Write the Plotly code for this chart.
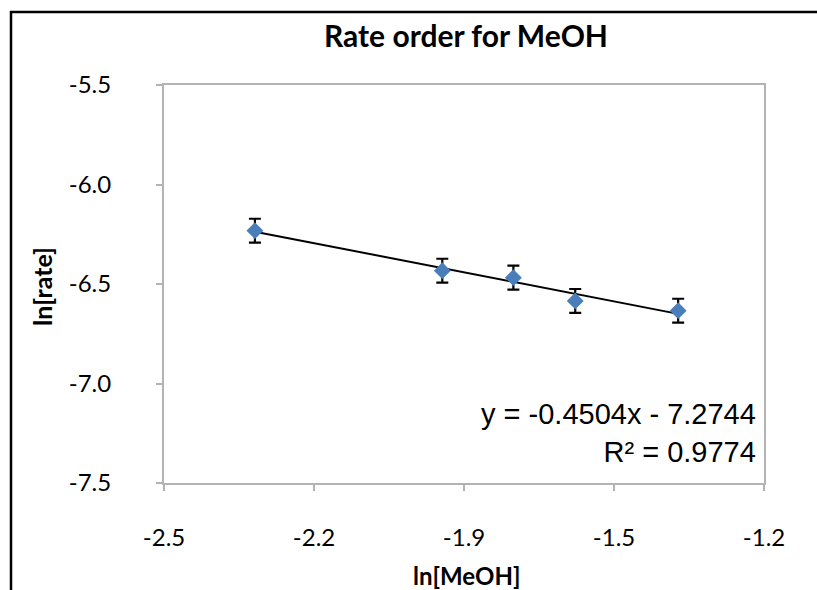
from decimal import Decimal, ROUND_HALF_UP

import numpy as np
import plotly.graph_objects as go

# Measured points: ln of methanol concentration vs ln of the initial rate
ln_meoh = [-2.303, -1.897, -1.743, -1.609, -1.386]
ln_rate = [-6.232, -6.433, -6.468, -6.585, -6.634]
rate_err = [0.06, 0.06, 0.06, 0.06, 0.06]

# Least-squares line as reported on the chart
slope = -0.4504
intercept = -7.2744
r_squared = 0.9774

x_range = [-2.5, -1.2]
x_dtick = 0.325
y_range = [-7.5, -5.5]
y_dtick = 0.5

W, H = 817, 590
L, R, T, B = 164, 53, 85, 107


def px(x):
    return (x - L) / (W - L - R)


def py(y):
    return (H - B - y) / (H - T - B)


def fmt1(v):
    # one decimal, halves rounded away from zero, plain hyphen-minus
    d = Decimal(repr(round(float(v), 6))).quantize(Decimal("0.1"), rounding=ROUND_HALF_UP)
    return str(d)


def ticks(rng, step):
    n = int(round((rng[1] - rng[0]) / step))
    vals = [rng[0] + i * step for i in range(n + 1)]
    return vals, [fmt1(v) for v in vals]


x_tickvals, x_ticktext = ticks(x_range, x_dtick)
y_tickvals, y_ticktext = ticks(y_range, y_dtick)

fit_x = [min(ln_meoh), max(ln_meoh)]
fit_y = [slope * v + intercept for v in fit_x]

fig = go.Figure()
fig.add_trace(go.Scatter(
    x=fit_x, y=fit_y, mode="lines",
    line=dict(color="black", width=2),
    showlegend=False, hoverinfo="skip",
))
fig.add_trace(go.Scatter(
    x=ln_meoh, y=ln_rate, mode="markers",
    marker=dict(symbol="diamond", size=13, color="#4a7ebb"),
    error_y=dict(type="data", array=rate_err, visible=True,
                 color="black", thickness=2.2, width=6),
    showlegend=False,
))

axis_style = dict(
    showgrid=False, zeroline=False, showline=True, mirror=True,
    linecolor="#b3b3b3", linewidth=2,
    ticks="outside", ticklen=6, tickwidth=2, tickcolor="#b3b3b3",
    tickfont=dict(family="Lato", size=24, color="black"),
)

sign = "-" if intercept < 0 else "+"
eq_text = f"y = {slope:.4f}x {sign} {abs(intercept):.4f}<br>R² = {r_squared:.4f}"

fig.update_layout(
    width=W, height=H,
    margin=dict(l=L, r=R, t=T, b=B),
    paper_bgcolor="white", plot_bgcolor="white",
    xaxis=dict(range=x_range, tickmode="array", tickvals=x_tickvals,
               ticktext=x_ticktext, ticklabelstandoff=26, **axis_style),
    yaxis=dict(range=y_range, tickmode="array", tickvals=y_tickvals,
               ticktext=y_ticktext, ticklabelstandoff=40, **axis_style),
    shapes=[dict(type="rect", xref="paper", yref="paper",
                 x0=px(11), x1=px(840), y0=py(620), y1=py(12),
                 line=dict(color="black", width=2.5), layer="above")],
    annotations=[
        dict(text="<b>Rate order for MeOH</b>", xref="paper", yref="paper",
             x=px(466), y=py(35), xanchor="center", yanchor="middle",
             showarrow=False, font=dict(family="Lato", size=30, color="black")),
        dict(text="<b>ln[MeOH]</b>", xref="paper", yref="paper",
             x=px(467), y=py(575), xanchor="center", yanchor="middle",
             showarrow=False, font=dict(family="Lato", size=24, color="black")),
        dict(text="<b>ln[rate]</b>", xref="paper", yref="paper",
             x=px(42), y=py(287), xanchor="center", yanchor="middle",
             textangle=-90, showarrow=False,
             font=dict(family="Lato", size=25, color="black")),
        dict(text=eq_text, xref="paper", yref="paper",
             x=px(758), y=py(433), xanchor="right", yanchor="middle",
             align="right", showarrow=False,
             font=dict(family="Liberation Sans", size=29, color="black")),
    ],
)

fig.write_html("out.html")
